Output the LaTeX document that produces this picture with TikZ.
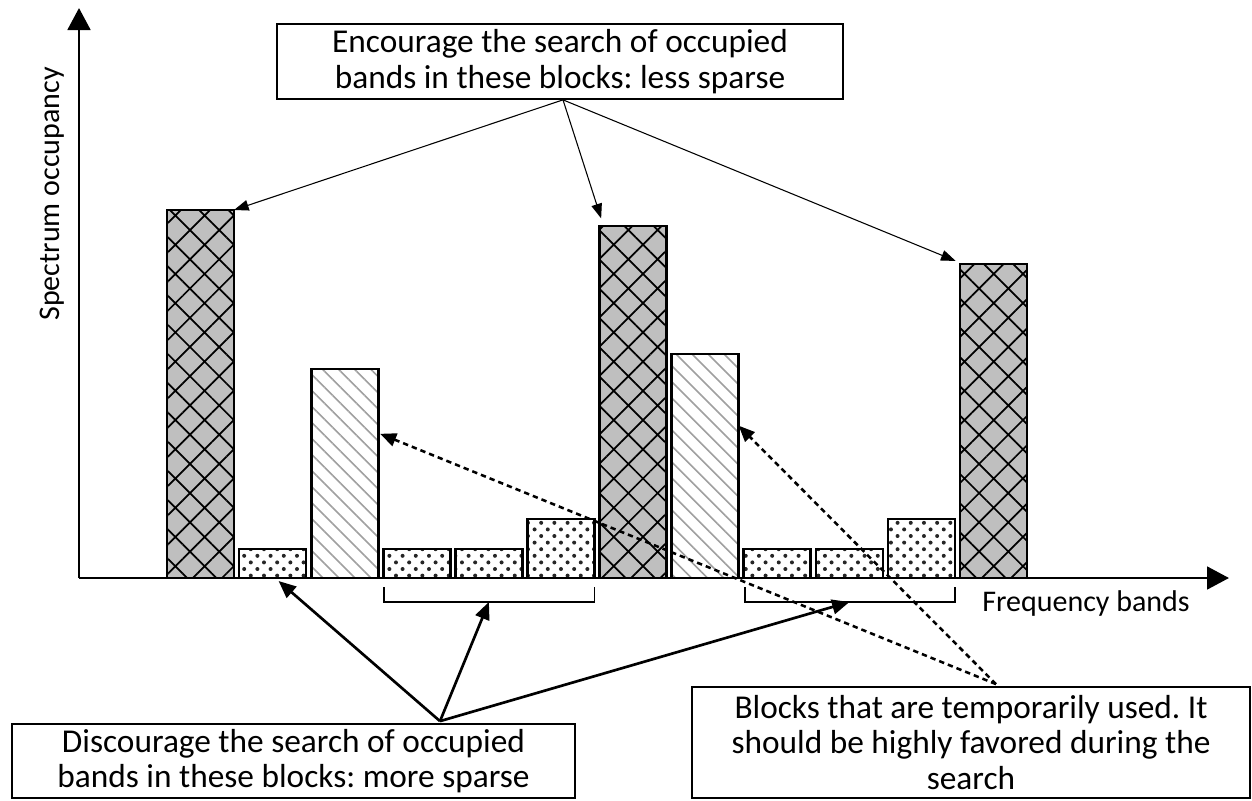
\documentclass[tikz,border=0pt]{standalone}
\usepackage{fontspec}
\setmainfont{Carlito}
\usetikzlibrary{patterns.meta,arrows.meta,calc}
\frenchspacing

\tikzset{every picture/.style={line width=0.75pt}}
\tikzset{
  bar/.style={draw, line width=2pt, inner sep=0pt, outer sep=0pt, anchor=south west, minimum width=50.25pt},
  heavy/.style={bar, preaction={fill=gray!50}, pattern={Hatch[angle=45,distance=15.5pt,line width=1.3pt]}, pattern color=black},
  light/.style={bar, pattern={Lines[angle=-45,distance=8.5pt,line width=1.2pt]}, pattern color=gray!75},
  low/.style={bar, pattern={Dots[angle=45,distance=7pt,radius=1.5pt]}, pattern color=gray!30!black},
  note/.style={draw, line width=1.3pt, inner sep=0pt, align=center, font=\fontsize{25}{26.5}\selectfont},
  lbl/.style={inner sep=0pt, font=\fontsize{22.5}{26}\selectfont},
  axis/.style={line width=2.2pt, -{Triangle[length=16.5pt,width=17pt]}},
  ptr/.style={line width=0.8pt, -{Triangle[length=11pt,width=8pt]}},
  bold ptr/.style={line width=2pt, -{Triangle[length=13pt,width=11pt]}},
  dash ptr/.style={line width=1.9pt, dash pattern=on 4pt off 3pt, -{Triangle[length=12pt,width=10pt]}},
  brace/.style={line width=1.3pt},
}

\begin{document}
\begin{tikzpicture}[x=0.75pt,y=0.75pt,yscale=-1,xscale=1]
\useasboundingbox (0,0) rectangle (1252,800);

%Axes
\coordinate (o) at (79,578);
\coordinate (ytop) at (79,8);
\coordinate (xend) at (1229,578);
\draw[axis] (o) -- (ytop);
\draw[axis] (o) -- (xend);

%Shape: Bars
\foreach \i/\h/\kind in {1/368/heavy, 2/29/low, 3/209/light, 4/29/low, 5/29/low, 6/59/low,
                         7/352/heavy, 8/224/light, 9/29/low, 10/29/low, 11/59/low, 12/314/heavy}
  \node[\kind, minimum height={\h*0.75pt}] (b\i) at ({167+72.1*(\i-1)},578) {};

%Shape: Brackets
\draw[brace] ($(b4.south west)+(1,9)$) |- ($(b6.south east)+(0,24)$) -- ($(b6.south east)+(0,9)$);
\draw[brace] ($(b9.south west)+(1,9)$) |- ($(b11.south east)+(0,24)$) -- ($(b11.south east)+(0,9)$);
\coordinate (br1) at ($(b4.south west)!0.5!(b6.south east)+(0,24)$);
\coordinate (br2) at ($(b9.south west)!0.5!(b11.south east)+(0,24)$);

% Text Node
\node[lbl, rotate=90] (ylab) at (52,194) {Spectrum occupancy};
% Text Node
\node[lbl] (xlab) at (1086,603) {Frequency bands};
% Text Node
\node[note, minimum width=424.5pt, minimum height=56.25pt] (enc) at (560,61.5)
  {Encourage the search of occupied\\bands in these blocks: less sparse};
% Text Node
\node[note, minimum width=422.25pt, minimum height=55.5pt] (dis) at (293.5,761)
  {Discourage the search of occupied\\bands in these blocks: more sparse};
% Text Node
\node[note, minimum width=418.5pt, minimum height=83.25pt] (tmp) at (971,742.5)
  {Blocks that are temporarily used. It\\should be highly favored during the\\search};

\coordinate (e0) at ($(enc.south)+(3,0)$);
\coordinate (d0) at ($(dis.north)+(146.5,-2)$);
\coordinate (t0) at ($(tmp.north)+(25,-2)$);

%Straight Lines
\draw[ptr] (e0) -- (b1.north east);
\draw[ptr, shorten >=6pt] (e0) -- ($(b7.north west)+(4,0)$);
\draw[ptr, shorten >=6pt] (e0) -- ($(b12.north west)+(3,0)$);

%Straight Lines
\draw[bold ptr] (d0) -- ($(b2.south)+(6,3)$);
\draw[bold ptr] (d0) -- (br1);
\draw[bold ptr] (d0) -- (br2);

%Straight Lines
\draw[dash ptr] (t0) -- ($(b3.north east)!0.31!(b3.south east)+(2,0)$);
\draw[dash ptr] (t0) -- ($(b8.north east)!0.32!(b8.south east)$);

\end{tikzpicture}
\end{document}
